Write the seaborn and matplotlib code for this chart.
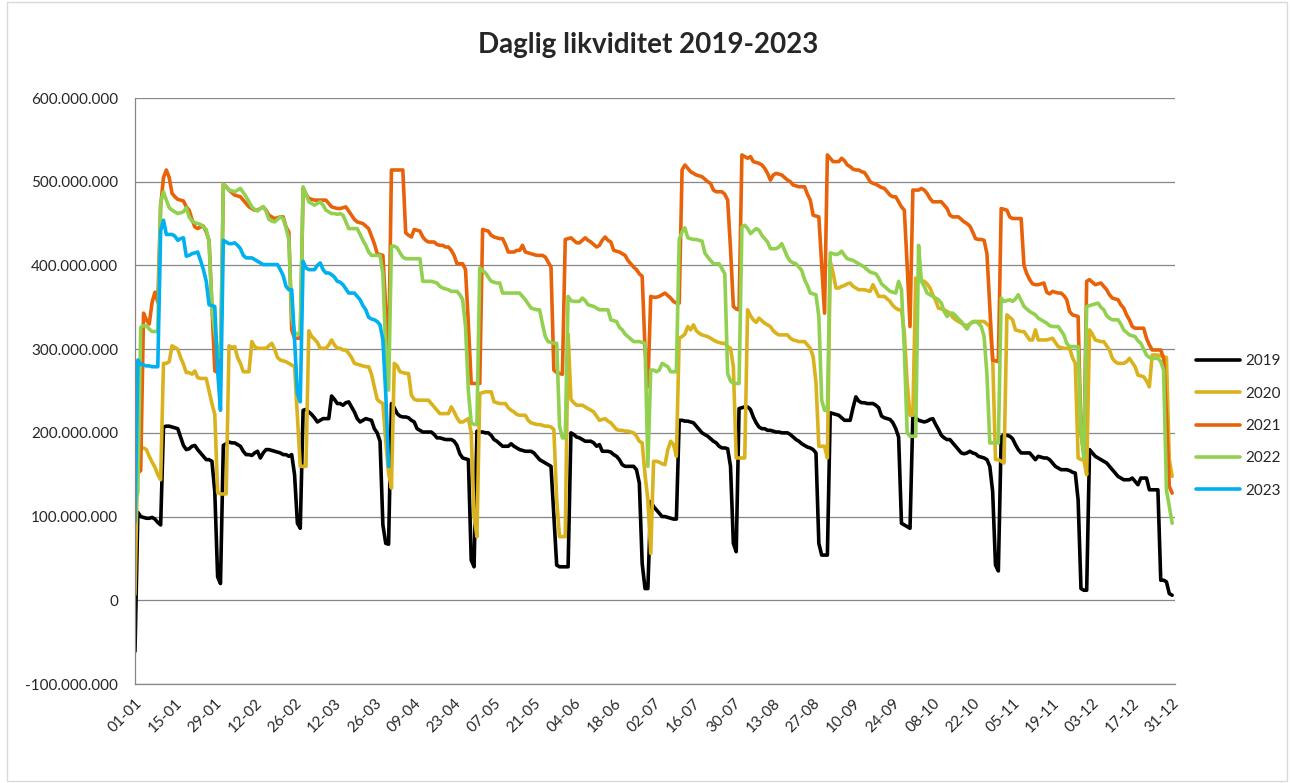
import numpy as np
import pandas as pd
import matplotlib
matplotlib.use("Agg")
import matplotlib.pyplot as plt
import seaborn as sns
from matplotlib.patches import Rectangle
from matplotlib.ticker import FuncFormatter, MultipleLocator

# daily liquidity in millions, one value per day from 01-01
y2019 = [
    -61, 105, 100, 99, 98, 98, 99, 97, 93, 90, 207, 208, 208, 207, 206, 205, 195, 185, 180, 181,
    184, 185, 180, 176, 172, 168, 168, 166, 130, 28, 20,
    185, 187, 189, 188, 188, 186, 184, 178, 174, 174, 173, 176, 178, 170, 176, 180, 180, 179, 178, 177,
    176, 174, 174, 172, 174, 150, 92, 86,
    227, 228, 225, 222, 218, 213, 215, 217, 217, 217, 244, 240, 235, 235, 233, 236, 237, 231, 225, 217,
    213, 215, 217, 216, 215, 205, 200, 190, 90, 68, 67,
    235, 230, 223, 220, 219, 219, 218, 215, 213, 205, 203, 201, 201, 201, 201, 198, 194, 194, 193, 192,
    192, 192, 190, 185, 175, 170, 169, 168, 48, 40,
    202, 201, 201, 200, 200, 197, 192, 190, 187, 184, 184, 184, 187, 184, 182, 180, 179, 178, 178, 178,
    176, 172, 168, 166, 164, 162, 160, 100, 42, 40, 40,
    40, 40, 200, 198, 195, 194, 192, 190, 190, 190, 188, 184, 186, 178, 178, 178, 177, 174, 172, 168,
    162, 160, 160, 160, 160, 156, 140, 44, 14, 14,
    118, 112, 108, 104, 100, 100, 99, 98, 97, 97, 215, 215, 214, 214, 213, 212, 208, 204, 200, 198,
    196, 193, 190, 188, 184, 182, 182, 181, 160, 68, 58,
    229, 230, 231, 231, 228, 219, 212, 207, 205, 205, 203, 203, 202, 201, 201, 200, 200, 200, 198, 195,
    192, 190, 187, 185, 183, 182, 180, 176, 68, 54, 54,
    54, 224, 223, 222, 221, 218, 215, 215, 215, 230, 243, 238, 236, 236, 235, 235, 235, 233, 230, 220,
    218, 217, 216, 212, 205, 195, 92, 90, 88, 86,
    221, 218, 215, 214, 213, 214, 216, 217, 210, 204, 197, 194, 192, 192, 188, 184, 180, 176, 175, 176,
    178, 176, 175, 172, 171, 170, 168, 160, 130, 42, 35,
    195, 198, 197, 196, 193, 186, 180, 176, 176, 176, 176, 172, 168, 172, 171, 170, 170, 168, 164, 160,
    158, 156, 156, 156, 155, 153, 152, 120, 14, 12,
    12, 180, 176, 172, 170, 168, 166, 164, 160, 156, 152, 148, 146, 144, 144, 144, 146, 142, 138, 146,
    146, 146, 132, 132, 132, 132, 24, 24, 22, 8, 6,
]

y2020 = [
    7, 182, 182, 182, 180, 172, 165, 159, 150, 144, 283, 283, 285, 304, 302, 300, 290, 282, 272, 272,
    270, 274, 266, 265, 265, 265, 250, 235, 222, 129, 127,
    127, 127, 304, 302, 303, 290, 283, 273, 273, 273, 309, 303, 301, 301, 301, 301, 304, 307, 300, 290,
    287, 286, 285, 283, 281, 279, 220, 160,
    160, 160, 322, 315, 312, 308, 301, 301, 301, 305, 311, 305, 301, 301, 299, 299, 295, 290, 283, 282,
    281, 280, 279, 279, 270, 255, 240, 237, 235, 190, 152,
    134, 283, 280, 273, 272, 271, 271, 245, 240, 239, 239, 239, 239, 239, 235, 231, 227, 223, 223, 223,
    223, 231, 225, 218, 213, 213, 215, 217, 200, 100,
    76, 247, 248, 249, 249, 249, 237, 236, 235, 235, 235, 230, 227, 225, 222, 221, 221, 221, 215, 212,
    211, 210, 210, 209, 208, 208, 207, 204, 120, 76, 76,
    76, 318, 240, 236, 233, 233, 233, 231, 229, 227, 225, 220, 215, 216, 217, 214, 212, 208, 204, 203,
    203, 202, 202, 201, 200, 196, 190, 188, 150, 120,
    56, 166, 166, 165, 163, 162, 180, 190, 186, 172, 313, 315, 318, 327, 323, 329, 322, 319, 317, 316,
    315, 313, 311, 309, 308, 307, 307, 303, 301, 279, 170,
    170, 170, 170, 347, 340, 335, 332, 337, 334, 331, 329, 327, 322, 319, 317, 317, 317, 317, 313, 311,
    310, 309, 309, 309, 305, 301, 291, 260, 184, 184, 184,
    170, 405, 391, 373, 373, 375, 376, 378, 379, 375, 373, 371, 371, 371, 370, 369, 377, 370, 363, 363,
    363, 360, 357, 352, 349, 347, 347, 320, 260, 221,
    221, 385, 383, 382, 381, 378, 373, 365, 358, 349, 348, 347, 345, 343, 338, 335, 333, 331, 329, 328,
    330, 332, 333, 333, 333, 333, 330, 327, 291, 168, 168,
    166, 164, 341, 338, 335, 323, 322, 321, 321, 316, 311, 311, 323, 311, 311, 311, 311, 312, 313, 308,
    303, 302, 301, 301, 301, 290, 283, 170, 168, 168,
    150, 323, 318, 311, 310, 309, 309, 304, 299, 289, 285, 283, 283, 283, 285, 289, 284, 279, 269, 268,
    267, 262, 255, 293, 293, 293, 292, 291, 290, 168, 148,
]

y2021 = [
    150, 152, 155, 343, 335, 330, 356, 368, 356, 471, 505, 514, 505, 486, 482, 479, 478, 477, 470, 466,
    455, 446, 444, 446, 447, 440, 430, 351, 274, 272, 272,
    497, 494, 490, 487, 484, 483, 482, 478, 474, 470, 468, 466, 466, 468, 470, 466, 460, 458, 456, 457,
    458, 458, 446, 440, 323, 313, 313, 313,
    492, 485, 480, 479, 478, 478, 478, 478, 478, 474, 470, 469, 468, 468, 469, 470, 465, 460, 455, 452,
    451, 450, 447, 444, 435, 426, 414, 413, 412, 350, 287,
    514, 514, 514, 514, 514, 439, 436, 434, 443, 442, 441, 434, 430, 428, 428, 428, 425, 424, 424, 422,
    422, 418, 412, 402, 402, 402, 395, 330, 259, 259,
    259, 259, 443, 442, 441, 436, 434, 433, 432, 432, 425, 416, 416, 416, 418, 418, 424, 416, 415, 414,
    413, 412, 412, 412, 410, 404, 398, 275, 272, 271, 270,
    431, 432, 433, 430, 427, 427, 430, 433, 430, 428, 425, 422, 424, 430, 434, 430, 428, 418, 417, 416,
    414, 412, 406, 402, 398, 395, 390, 387, 300, 255,
    363, 362, 362, 363, 365, 367, 364, 361, 357, 355, 355, 514, 520, 516, 512, 510, 508, 507, 506, 503,
    500, 498, 490, 488, 488, 488, 485, 478, 420, 351, 348,
    347, 532, 530, 528, 530, 524, 523, 522, 520, 516, 510, 502, 508, 510, 509, 508, 505, 502, 500, 496,
    495, 494, 494, 494, 485, 478, 460, 459, 458, 400, 343,
    532, 528, 524, 524, 524, 528, 525, 520, 518, 515, 514, 514, 512, 511, 506, 500, 498, 497, 495, 493,
    492, 488, 484, 482, 482, 476, 470, 466, 400, 327,
    490, 490, 490, 492, 490, 486, 480, 476, 476, 476, 476, 472, 468, 460, 458, 458, 458, 455, 452, 450,
    447, 440, 432, 431, 431, 430, 414, 350, 287, 286, 285,
    468, 467, 466, 458, 456, 456, 456, 456, 400, 390, 383, 378, 377, 377, 378, 379, 368, 366, 369, 368,
    367, 367, 364, 359, 345, 341, 340, 339, 200, 175,
    381, 383, 380, 377, 378, 379, 375, 371, 365, 361, 360, 359, 353, 349, 341, 335, 327, 325, 325, 325,
    325, 313, 305, 299, 299, 299, 299, 289, 220, 136, 128,
]

y2022 = [
    115, 129, 326, 328, 328, 324, 321, 321, 321, 475, 488, 478, 469, 466, 464, 462, 463, 464, 469, 458,
    453, 451, 450, 449, 446, 443, 428, 350, 320, 300, 290,
    497, 494, 490, 489, 488, 490, 492, 487, 482, 476, 470, 467, 465, 468, 470, 465, 455, 453, 452, 455,
    458, 456, 445, 431, 339, 320, 318, 318,
    494, 485, 476, 474, 472, 474, 476, 472, 466, 464, 462, 462, 461, 462, 460, 452, 444, 444, 444, 444,
    437, 430, 424, 416, 412, 412, 412, 412, 390, 299, 251,
    423, 423, 421, 415, 410, 408, 408, 408, 408, 408, 408, 381, 381, 381, 381, 380, 379, 375, 373, 372,
    371, 369, 369, 369, 365, 359, 327, 250, 212, 210,
    210, 397, 394, 391, 386, 381, 380, 379, 379, 367, 367, 367, 367, 367, 367, 367, 363, 359, 354, 349,
    348, 347, 347, 330, 315, 309, 308, 307, 307, 208, 194,
    194, 363, 358, 357, 357, 357, 361, 358, 353, 352, 351, 349, 347, 347, 347, 347, 335, 334, 333, 326,
    323, 318, 315, 312, 309, 309, 309, 308, 307, 160,
    275, 275, 273, 275, 283, 281, 279, 273, 273, 273, 431, 440, 445, 433, 432, 431, 431, 430, 429, 415,
    410, 406, 402, 402, 402, 396, 390, 271, 262, 259, 259,
    259, 446, 448, 444, 438, 441, 444, 442, 436, 432, 428, 420, 420, 420, 422, 426, 418, 410, 405, 403,
    402, 398, 394, 383, 376, 367, 366, 365, 339, 239, 227,
    227, 415, 414, 413, 414, 417, 412, 408, 407, 406, 404, 402, 400, 398, 395, 392, 391, 390, 385, 378,
    375, 372, 369, 368, 367, 381, 371, 300, 200, 196,
    196, 196, 424, 381, 375, 367, 365, 363, 361, 359, 355, 345, 339, 343, 343, 340, 336, 333, 328, 324,
    330, 333, 333, 331, 327, 315, 270, 188, 188, 188, 188,
    361, 357, 358, 359, 357, 360, 365, 358, 351, 348, 345, 343, 341, 337, 335, 333, 331, 328, 327, 327,
    327, 322, 317, 307, 303, 303, 303, 303, 200, 170,
    351, 352, 353, 354, 355, 350, 347, 340, 337, 335, 335, 335, 330, 323, 320, 317, 316, 315, 310, 307,
    300, 293, 290, 289, 289, 289, 285, 275, 132, 112, 92,
]

y2023 = [
    93, 287, 282, 281, 280, 280, 279, 279, 279, 441, 454, 437, 437, 437, 435, 430, 432, 433, 411, 412,
    414, 415, 416, 406, 395, 381, 353, 352, 351, 274, 227,
    430, 428, 426, 426, 427, 424, 420, 412, 409, 409, 409, 407, 405, 403, 401, 401, 401, 401, 401, 401,
    395, 388, 375, 371, 371, 311, 247, 237,
    405, 397, 395, 395, 395, 400, 403, 395, 391, 391, 389, 386, 381, 380, 377, 372, 367, 367, 367, 363,
    359, 352, 347, 338, 336, 335, 333, 329, 311, 247, 160,
]

years = ["2019", "2020", "2021", "2022", "2023"]
colors = ["#000000", "#DAB21E", "#E8620A", "#92D050", "#00B0F0"]
tick_labels = ["01-01", "15-01", "29-01", "12-02", "26-02", "12-03", "26-03", "09-04", "23-04",
               "07-05", "21-05", "04-06", "18-06", "02-07", "16-07", "30-07", "13-08", "27-08",
               "10-09", "24-09", "08-10", "22-10", "05-11", "19-11", "03-12", "17-12", "31-12"]

frames = []
for year, vals in zip(years, [y2019, y2020, y2021, y2022, y2023]):
    frames.append(pd.DataFrame({"day": np.arange(len(vals)),
                                "value": np.array(vals, dtype=float) * 1e6,
                                "year": year}))
df = pd.concat(frames, ignore_index=True)

sns.set_style("white")
plt.rcParams["font.family"] = ["Lato", "DejaVu Sans"]

fig = plt.figure(figsize=(12.9, 7.83), dpi=100)
ax = fig.add_axes([135 / 1290, 1 - 684 / 783, 1040 / 1290, 586 / 783])

sns.lineplot(data=df, x="day", y="value", hue="year", hue_order=years,
             palette=dict(zip(years, colors)), linewidth=2.6, estimator=None,
             sort=False, ax=ax)

ax.set_xlim(0, 365)
ax.set_ylim(-1e8, 6e8)
ax.yaxis.set_major_locator(MultipleLocator(1e8))
ax.yaxis.set_major_formatter(FuncFormatter(lambda v, p: f"{int(round(v)):,}".replace(",", ".")))
ax.set_xticks(np.arange(0, 365, 14))
ax.set_xticklabels(tick_labels, rotation=45, ha="right", rotation_mode="anchor")
ax.tick_params(axis="both", labelsize=11, length=5, color="#878787", direction="out")
ax.tick_params(axis="y", pad=7)
ax.tick_params(axis="x", pad=4)
ax.set_xlabel("")
ax.set_ylabel("")

ax.grid(False)
ax.yaxis.grid(True, color="#878787", linewidth=0.9)
ax.set_axisbelow(True)
for side in ["top", "right"]:
    ax.spines[side].set_visible(False)
for side in ["left", "bottom"]:
    ax.spines[side].set_color("#878787")
    ax.spines[side].set_linewidth(0.9)

handles, labels = ax.get_legend_handles_labels()
ax.get_legend().remove()
fig.legend(handles, labels, loc="center left", bbox_to_anchor=(1190 / 1290, 1 - 426 / 783),
           frameon=False, fontsize=11, handlelength=2.9, labelspacing=1.2,
           handletextpad=0.3, borderaxespad=0)

fig.text(648 / 1290, 1 - 45 / 783, "Daglig likviditet 2019-2023", ha="center", va="center",
         fontsize=20, fontweight="bold")

fig.add_artist(Rectangle((7 / 1290, 2 / 783), 1280 / 1290, 779 / 783, transform=fig.transFigure,
                         fill=False, edgecolor="#d9d9d9", linewidth=1))

fig.savefig("out.png", dpi=100)
